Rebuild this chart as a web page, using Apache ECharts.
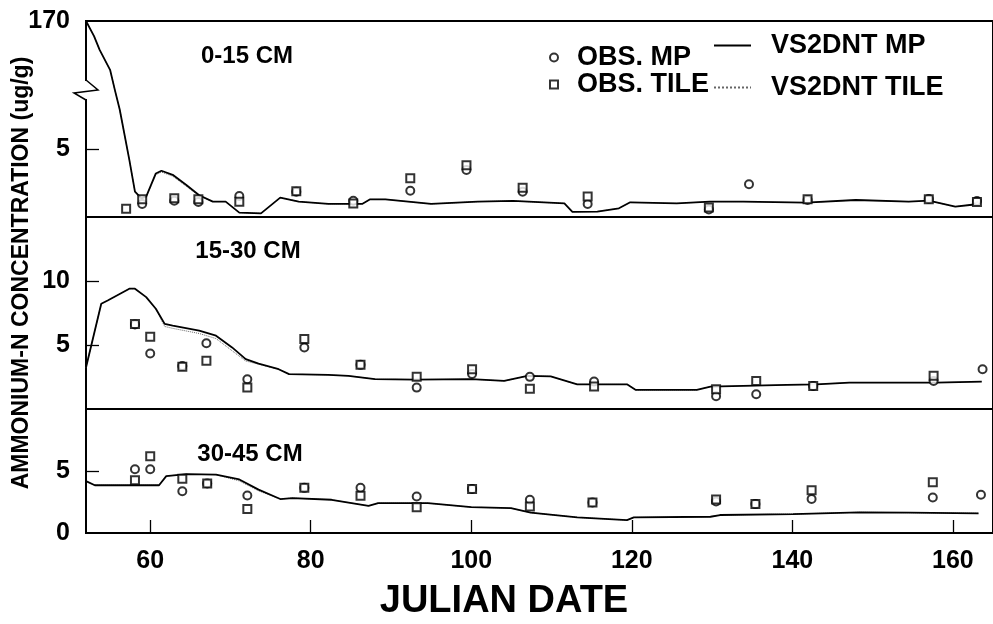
<!DOCTYPE html>
<html>
<head>
<meta charset="utf-8">
<title>Ammonium-N concentration</title>
<script src="https://cdn.jsdelivr.net/npm/echarts@6.0.0/dist/echarts.min.js"></script>
<style>
  html, body { margin: 0; padding: 0; background: #fff; }
  #main { width: 993px; height: 624px; }
</style>
</head>
<body>
<div id="main"></div>
<script>
// ---- data: [julian date, ug/g] ----
var X_TICKS = [60, 80, 100, 120, 140, 160];
var PANEL_NAMES = ['0-15 CM', '15-30 CM', '30-45 CM'];

// 0-15 cm
var OBS_MP_0 = [[59.0,0.96],[63.0,1.2],[66.0,1.1],[71.1,1.54],[78.2,1.85],[85.3,1.2],[92.4,1.93],[99.4,3.46],
    [106.4,1.86],[114.5,0.96],[129.6,0.55],[134.6,2.4],[141.9,1.25],[157.0,1.32],[163.0,1.18]];
var OBS_TILE_0 = [[57.0,0.6],[59.0,1.3],[63.0,1.37],[66.0,1.3],[71.1,1.12],[78.2,1.9],[85.3,1.0],[92.4,2.85],
    [99.4,3.8],[106.4,2.15],[114.5,1.5],[129.6,0.7],[141.9,1.3],[157.0,1.3],[163.0,1.1]];
var SIM_MP_0 = [[52.0,170],[53.0,135],[53.7,103],[55.0,57],[55.6,10],[56.2,7.9],[57.4,4.2],[58.1,1.86],[58.9,1.37],
    [59.5,1.5],[60.7,3.2],[61.4,3.4],[62.8,3.1],[64.5,2.35],[66.1,1.6],[67.8,1.13],[69.4,1.13],[71.1,0.32],
    [73.8,0.27],[76.2,1.42],[78.5,1.13],[82.2,0.96],[86.4,0.96],[87.4,1.3],[89.3,1.3],[95.0,0.96],[100.8,1.13],
    [105.2,1.18],[111.6,1.0],[112.6,0.37],[115.7,0.4],[118.4,0.64],[119.8,1.08],[125.6,1.0],[129.7,1.13],
    [133.9,1.13],[141.7,1.05],[147.9,1.25],[154.5,1.13],[157.0,1.2],[160.3,0.76],[162.4,0.9],[163.2,1.15]];
var SIM_TILE_0 = [[52.0,170],[53.0,135],[53.7,103],[55.0,57],[55.6,10],[56.2,7.9],[57.4,4.2],[58.1,1.86],[58.9,1.37],
    [59.5,1.5],[60.7,3.1],[61.4,3.3],[62.8,3.0],[64.5,2.25],[66.1,1.55],[67.8,1.13],[69.4,1.13],[71.1,0.32],
    [73.8,0.27],[76.2,1.42],[78.5,1.13],[82.2,0.96],[86.4,0.96],[87.4,1.3],[89.3,1.3],[95.0,0.96],[100.8,1.13],
    [105.2,1.18],[111.6,1.0],[112.6,0.37],[115.7,0.4],[118.4,0.64],[119.8,1.08],[125.6,1.0],[129.7,1.13],
    [133.9,1.13],[141.7,1.05],[147.9,1.25],[154.5,1.13],[157.0,1.2],[160.3,0.76],[162.4,0.9],[163.2,1.15]];

// 15-30 cm
var OBS_MP_1 = [[58.1,6.6],[60.0,4.34],[64.0,3.35],[67.0,5.13],[72.1,2.33],[79.2,4.81],[86.2,3.45],[93.2,1.67],
    [100.1,2.74],[107.3,2.51],[115.3,2.15],[130.5,1.0],[135.5,1.15],[142.6,1.8],[157.6,2.19],[163.7,3.11]];
var OBS_TILE_1 = [[58.1,6.65],[60.0,5.65],[64.0,3.3],[67.0,3.77],[72.1,1.67],[79.2,5.47],[86.2,3.45],[93.2,2.51],
    [100.1,3.1],[107.3,1.59],[115.3,1.75],[130.5,1.54],[135.5,2.19],[142.6,1.8],[157.6,2.59]];
var SIM_MP_1 = [[52.0,3.24],[53.9,8.22],[54.7,8.48],[57.4,9.4],[58.1,9.4],[59.5,8.74],[60.7,7.83],[61.8,6.65],
    [62.8,6.52],[66.1,6.12],[68.2,5.73],[70.2,4.81],[71.9,3.9],[73.5,3.55],[76.0,3.11],[77.3,2.72],[82.2,2.66],
    [84.7,2.59],[88.0,2.33],[93.0,2.3],[100.0,2.33],[104.1,2.19],[107.0,2.59],[109.9,2.55],[113.2,1.93],
    [119.4,1.93],[120.5,1.49],[128.1,1.49],[129.8,1.75],[139.3,1.88],[143.0,1.93],[147.1,2.06],[157.9,2.06],[163.6,2.14]];
var SIM_TILE_1 = [[52.0,3.24],[53.9,8.22],[54.7,8.48],[57.4,9.4],[58.1,9.4],[59.5,8.74],[60.7,7.8],[61.8,6.45],
    [62.8,6.3],[66.1,5.9],[68.2,5.5],[70.2,4.55],[71.9,3.75],[73.5,3.5],[76.0,3.11],[77.3,2.72],[82.2,2.66],
    [84.7,2.59],[88.0,2.33],[93.0,2.3],[100.0,2.33],[104.1,2.19],[107.0,2.59],[109.9,2.55],[113.2,1.93],
    [119.4,1.93],[120.5,1.49],[128.1,1.49],[129.8,1.75],[139.3,1.88],[143.0,1.93],[147.1,2.06],[157.9,2.06],[163.6,2.14]];

// 30-45 cm
var OBS_MP_2 = [[58.1,5.14],[60.0,5.14],[64.0,3.36],[67.1,3.99],[72.1,3.03],[79.2,3.64],[86.2,3.64],[93.2,2.95],
    [100.1,3.55],[107.3,2.68],[115.1,2.46],[130.5,2.55],[135.4,2.33],[142.4,2.74],[157.5,2.87],[163.5,3.09]];
var OBS_TILE_2 = [[58.1,4.26],[60.0,6.18],[64.0,4.37],[67.1,4.0],[72.1,1.94],[79.2,3.64],[86.2,3.0],[93.2,2.08],
    [100.1,3.55],[107.3,2.13],[115.1,2.46],[130.5,2.7],[135.4,2.33],[142.4,3.44],[157.5,4.1]];
var SIM_MP_2 = [[52.0,4.18],[53.1,3.85],[61.1,3.85],[62.0,4.59],[64.5,4.75],[68.2,4.7],[71.1,4.32],[73.5,3.5],
    [76.2,2.74],[77.7,2.82],[82.6,2.68],[87.2,2.19],[88.4,2.41],[94.6,2.41],[100.0,2.08],[104.95,2.0],[107.4,1.64],
    [113.2,1.26],[119.4,1.04],[120.25,1.26],[129.8,1.31],[131.0,1.45],[140.1,1.53],[148.3,1.67],[154.5,1.64],[163.2,1.59]];
var SIM_TILE_2 = [[52.0,4.18],[53.1,3.85],[61.1,3.85],[62.0,4.59],[64.5,4.75],[68.2,4.7],[71.1,4.2],[73.5,3.4],
    [76.2,2.74],[77.7,2.82],[82.6,2.68],[87.2,2.19],[88.4,2.41],[94.6,2.41],[100.0,2.08],[104.95,2.0],[107.4,1.64],
    [113.2,1.26],[119.4,1.04],[120.25,1.26],[129.8,1.31],[131.0,1.45],[140.1,1.53],[148.3,1.67],[154.5,1.64],[163.2,1.59]];

// y tick values for each panel (raw units)
var Y_LABELS = [[5, 170], [5, 10], [0, 5]];
var Y_TICKS = [[5], [5, 10], [5]];
var Y_MAX = [null, 15, 10];

// top panel has a broken axis: above BREAK_AT the scale is squeezed so 170 fits
var BREAK_AT = 9.3, TOP_SPAN = 14.4, TOP_MAX = 170;
function brk(v) {
    return v <= BREAK_AT ? v : BREAK_AT + (v - BREAK_AT) * (TOP_SPAN - BREAK_AT) / (TOP_MAX - BREAK_AT);
}
function unbrk(d) {
    return d <= BREAK_AT ? d : BREAK_AT + (d - BREAK_AT) * (TOP_MAX - BREAK_AT) / (TOP_SPAN - BREAK_AT);
}

var FONT = '"Liberation Sans", Arial, Helvetica, sans-serif';
var chart = echarts.init(document.getElementById('main'), null, { renderer: 'canvas' });

var grids = [
    { left: 86, right: -4, top: 21, height: 196 },
    { left: 86, right: -4, top: 217, height: 192 },
    { left: 86, right: -4, top: 409, height: 124 }
];
grids.forEach(function (g) {
    g.show = true;
    g.borderColor = '#000';
    g.borderWidth = 2;
    g.backgroundColor = 'transparent';
});

var xAxes = [], yAxes = [], series = [];
var obsMp = [OBS_MP_0, OBS_MP_1, OBS_MP_2];
var obsTile = [OBS_TILE_0, OBS_TILE_1, OBS_TILE_2];
var simMp = [SIM_MP_0, SIM_MP_1, SIM_MP_2];
var simTile = [SIM_TILE_0, SIM_TILE_1, SIM_TILE_2];

for (var i = 0; i < 3; i++) {
    var last = i === 2;
    var fy = i === 0 ? brk : function (v) { return v; };
    xAxes.push({
        type: 'value', gridIndex: i, min: 52, max: 165,
        axisLine: { show: false },
        axisTick: { show: last, inside: true, length: 13, customValues: X_TICKS, lineStyle: { color: '#000', width: 1.3 } },
        axisLabel: { show: last, customValues: X_TICKS, color: '#000', fontSize: 25, fontWeight: 'bold', fontFamily: FONT, margin: 16 },
        splitLine: { show: false }
    });
    yAxes.push({
        type: 'value', gridIndex: i, min: 0, max: i === 0 ? TOP_SPAN : Y_MAX[i],
        axisLine: { show: false },
        axisTick: { show: true, inside: true, length: 13, customValues: Y_TICKS[i].map(fy), lineStyle: { color: '#000', width: 1.3 } },
        axisLabel: {
            customValues: Y_LABELS[i].map(fy), color: '#000', fontSize: 25, fontWeight: 'bold', fontFamily: FONT, margin: 16,
            formatter: i === 0 ? function (v) { return String(Math.round(unbrk(v))); } : '{value}'
        },
        splitLine: { show: false }
    });
    var mapY = function (arr) { return arr.map(function (p) { return [p[0], fy(p[1])]; }); };
    series.push({
        name: 'VS2DNT TILE', type: 'line', xAxisIndex: i, yAxisIndex: i, data: mapY(simTile[i]),
        symbol: 'none', itemStyle: { color: '#666' }, lineStyle: { color: '#666', width: 1, type: 'dotted' }, z: 2
    });
    series.push({
        name: 'VS2DNT MP', type: 'line', xAxisIndex: i, yAxisIndex: i, data: mapY(simMp[i]),
        symbol: 'none', itemStyle: { color: '#000' }, lineStyle: { color: '#000', width: 1.8 }, z: 3
    });
    series.push({
        name: 'OBS. MP', type: 'scatter', xAxisIndex: i, yAxisIndex: i, data: mapY(obsMp[i]),
        symbol: 'emptyCircle', symbolSize: 8, itemStyle: { color: '#000', borderColor: '#000', borderWidth: 1.5 }, z: 4
    });
    series.push({
        name: 'OBS. TILE', type: 'scatter', xAxisIndex: i, yAxisIndex: i, data: mapY(obsTile[i]),
        symbol: 'emptyRect', symbolSize: 8, itemStyle: { color: '#000', borderColor: '#000', borderWidth: 1.5 }, z: 4
    });
}

function txt(x, y, s, size, weight, rot) {
    return {
        type: 'text', x: x, y: y, rotation: rot || 0, z: 50,
        style: {
            text: s, fill: '#000', fontSize: size, fontWeight: weight || 'normal', fontFamily: FONT,
            align: 'center', verticalAlign: 'middle', textAlign: 'center', textVerticalAlign: 'middle'
        }
    };
}

var graphics = [
    // gap in the left axis line + the break mark
    { type: 'rect', shape: { x: 82, y: 81, width: 8, height: 18 }, style: { fill: '#fff' }, z: 100 },
    { type: 'polyline', shape: { points: [[86, 80], [98, 90], [74, 93], [86, 100]] },
      style: { stroke: '#000', lineWidth: 1.5, fill: null }, z: 101 },
    txt(247, 56, PANEL_NAMES[0], 24, 'bold'),
    txt(248, 251, PANEL_NAMES[1], 24, 'bold'),
    txt(250, 454, PANEL_NAMES[2], 24, 'bold'),
    txt(504, 602, 'JULIAN DATE', 38, 'bold'),
    txt(22, 273, 'AMMONIUM-N CONCENTRATION (ug/g)', 23, 'bold', Math.PI / 2)
];

var option = {
    animation: false,
    backgroundColor: '#fff',
    grid: grids,
    xAxis: xAxes,
    yAxis: yAxes,
    legend: [
        {
            data: ['OBS. MP', 'OBS. TILE'], orient: 'vertical', left: 549, top: 44, padding: 0,
            itemWidth: 8, itemHeight: 8, itemGap: 0, selectedMode: false,
            textStyle: { color: '#000', fontSize: 27, fontWeight: 'bold', fontFamily: FONT, padding: [0, 0, 0, 14] }
        },
        {
            data: ['VS2DNT MP', 'VS2DNT TILE'], orient: 'vertical', left: 713, top: 32, padding: 0,
            itemWidth: 37, itemHeight: 8, itemGap: 15, selectedMode: false,
            itemStyle: { opacity: 0 },
            textStyle: { color: '#000', fontSize: 27, fontWeight: 'bold', fontFamily: FONT, padding: [0, 0, 0, 15] }
        }
    ],
    graphic: graphics,
    series: series
};

chart.setOption(option);
</script>
</body>
</html>
